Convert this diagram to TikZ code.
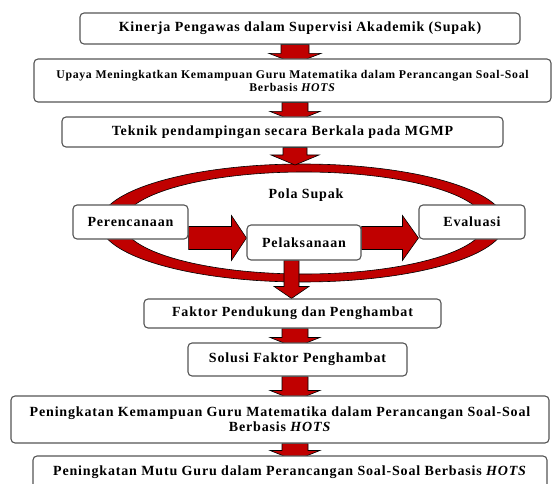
\documentclass[tikz,border=0pt]{standalone}
\usepackage{fontspec}
\setmainfont{Liberation Serif}
\newfontfamily\boxfont[LetterSpace=6]{Liberation Serif}
\usetikzlibrary{calc,backgrounds}

\definecolor{arrowred}{RGB}{192,0,0}
\definecolor{boxline}{RGB}{85,85,85}

\tikzset{
    box/.style={draw=boxline, line width=1.1pt, rounded corners=4pt, fill=white,
        inner sep=0pt, align=center, font=\boxfont\bfseries\fontsize{14}{15}\selectfont},
    smallbox/.style={box, font=\boxfont\bfseries\fontsize{11.8}{13}\selectfont},
    plain/.style={inner sep=0pt, font=\boxfont\bfseries\fontsize{14}{15}\selectfont},
    redshape/.style={fill=arrowred, draw=black, line width=0.6pt},
}

% block arrow: from, to, shaft half width, head half width, head length
\newcommand{\blockarrow}[5]{%
    \coordinate (hb) at ($(#2)!#5!(#1)$);
    \path[redshape] ($(#1)!#3!90:(#2)$) -- ($(hb)!#3!90:(#2)$) -- ($(hb)!#4!90:(#2)$)
        -- (#2) -- ($(hb)!#4!-90:(#2)$) -- ($(hb)!#3!-90:(#2)$) -- ($(#1)!#3!-90:(#2)$) -- cycle;
}

\begin{document}
\begin{tikzpicture}[x=1pt, y=-1pt]
    \useasboundingbox (0,0) rectangle (552,484);

    \node[box, minimum width=440pt, minimum height=31pt] (kinerja) at (300,28.5)
        {Kinerja Pengawas dalam Supervisi Akademik (Supak)};
    \node[smallbox, minimum width=517pt, minimum height=43pt] (upaya) at (292.5,80.5)
        {Upaya Meningkatkan Kemampuan Guru Matematika dalam Perancangan Soal-Soal\\Berbasis \textit{HOTS}};
    \node[box, minimum width=441pt, minimum height=30pt] (teknik) at (282.5,132)
        {Teknik pendampingan secara Berkala pada MGMP};

    \node[box, minimum width=115pt, minimum height=34pt] (perencanaan) at (130.5,222) {Perencanaan};
    \node[box, minimum width=114pt, minimum height=35pt] (pelaksanaan) at (304,242.5) {Pelaksanaan};
    \node[box, minimum width=106pt, minimum height=34pt] (evaluasi) at (472,222) {Evaluasi};
    \node[plain] (pola) at (306,195) {Pola Supak};

    \node[box, minimum width=297pt, minimum height=29pt] (faktor) at (292.5,313.5)
        {Faktor Pendukung dan Penghambat};
    \node[box, minimum width=219pt, minimum height=33pt] (solusi) at (297.5,359.5)
        {Solusi Faktor Penghambat};
    \node[box, minimum width=538pt, minimum height=47pt] (peningkatan) at (280,419.5)
        {Peningkatan Kemampuan Guru Matematika dalam Perancangan Soal-Soal\\Berbasis \textit{HOTS}};
    \node[box, minimum width=514pt, minimum height=33pt] (mutu) at (290,472.5)
        {Peningkatan Mutu Guru dalam Perancangan Soal-Soal Berbasis \textit{HOTS}};

    \begin{scope}[on background layer]
        % cycle ring
        \path[redshape, even odd rule] (302.5,223) ellipse [x radius=202.5pt, y radius=59pt]
            (304,223) ellipse [x radius=181pt, y radius=51pt];
        \coordinate (col) at (295,0);
        \coordinate (ringtop) at (295,165);
        \coordinate (mid) at (0,238);
        \coordinate (low) at (291.5,0);

        \blockarrow{kinerja.south -| col}{$(upaya.north -| col)+(0,5)$}{14pt}{26pt}{10pt}
        \blockarrow{upaya.south -| col}{$(teknik.north -| col)+(0,5)$}{13pt}{25pt}{10pt}
        \blockarrow{teknik.south -| col}{ringtop}{12pt}{24pt}{10pt}
        \blockarrow{perencanaan.east |- mid}{pelaksanaan.west |- mid}{11.5pt}{22.5pt}{15pt}
        \blockarrow{pelaksanaan.east |- mid}{evaluasi.west |- mid}{11.5pt}{22.5pt}{16pt}
        \blockarrow{pelaksanaan.south -| low}{faktor.north -| low}{7.5pt}{17.5pt}{12pt}
        \blockarrow{faktor.south -| col}{$(solusi.north -| col)+(0,5)$}{13pt}{25pt}{10pt}
        \blockarrow{solusi.south -| col}{$(peningkatan.north -| col)+(0,5)$}{13pt}{25pt}{10pt}
        \blockarrow{peningkatan.south -| col}{$(mutu.north -| col)+(0,5)$}{13pt}{25pt}{10pt}
    \end{scope}
\end{tikzpicture}
\end{document}
